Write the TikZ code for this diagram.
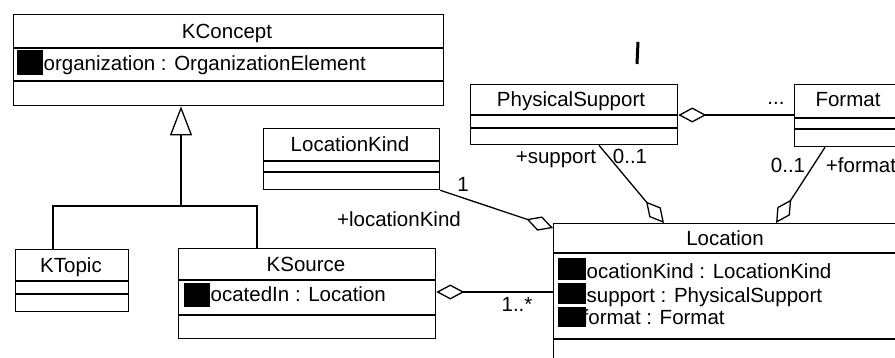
\documentclass[tikz,border=0pt]{standalone}
\usepackage{fontspec}
\setmainfont{Liberation Sans}
\usetikzlibrary{arrows.meta}
% horizontal compartment line inside a class box, #2 pt below its top edge
\newcommand\compart[2]{\draw ([yshift=-#2pt]#1.north west) -- ([yshift=-#2pt]#1.north east);}
\begin{document}
\begin{tikzpicture}[x=1pt,y=-1pt,
  line width=1.3pt,
  classbox/.style={draw, inner sep=0pt, anchor=north west},
  lbl/.style={inner sep=0pt, text height=14.7pt, text depth=0pt,
              font=\fontsize{20.5}{24}\selectfont},
  attrlbl/.style={lbl, anchor=west},
  agg/.style={{Diamond[open,length=28pt,width=15pt]}-},
  gen/.style={-{Triangle[open,length=29pt,width=22pt]}},
]
\useasboundingbox (0,0) rectangle (895,357);

% ---- class boxes ----
\node[classbox, minimum width=430pt, minimum height=91pt] (kconcept) at (13,14) {};
\compart{kconcept}{34} \compart{kconcept}{67}
\node[lbl] (kconceptT) at (227,31) {KConcept};
\node[attrlbl] (kconceptA) at (43,63) {organization : OrganizationElement};
\fill (17,50) rectangle (43,75);

\node[classbox, minimum width=113pt, minimum height=62pt] (ktopic) at (15,249) {};
\compart{ktopic}{32} \compart{ktopic}{45}
\node[lbl] (ktopicT) at (71,265) {KTopic};

\node[classbox, minimum width=257pt, minimum height=90pt] (ksource) at (178,248) {};
\compart{ksource}{32} \compart{ksource}{67}
\node[lbl] (ksourceT) at (306,264) {KSource};
\node[attrlbl] (ksourceA) at (205.5,294) {locatedIn : Location};
\fill (184,283) rectangle (210,307);

\node[classbox, minimum width=176pt, minimum height=61pt] (locationkind) at (263,128) {};
\compart{locationkind}{33} \compart{locationkind}{44}
\node[lbl] (locationkindT) at (350,144.5) {LocationKind};

\node[classbox, minimum width=207pt, minimum height=60pt] (physsup) at (470,84) {};
\compart{physsup}{31} \compart{physsup}{44}
\node[lbl] (physsupT) at (571,99.5) {PhysicalSupport};

\node[classbox, minimum width=104pt, minimum height=62pt] (format) at (794,84) {};
\compart{format}{34} \compart{format}{45}
\node[lbl] (formatT) at (848,99.5) {Format};

\node[classbox, minimum width=346pt, minimum height=150pt] (location) at (553,223) {};
\compart{location}{30} \compart{location}{116}
\node[lbl] (locationT) at (725,238.5) {Location};
\node[attrlbl] (locationA1) at (581.5,271.5) {locationKind : LocationKind};
\node[attrlbl] (locationA2) at (586,295) {support : PhysicalSupport};
\node[attrlbl] (locationA3) at (582,317) {format : Format};
\fill (558,258) rectangle (586,280);
\fill (558,283) rectangle (586,304);
\fill (558,307) rectangle (586,327);

% ---- generalization KTopic / KSource -> KConcept ----
\coordinate (gj) at (181,206);
\coordinate (tx) at (53,0);
\coordinate (sx) at (257,0);
\draw (ktopic.north -| tx) -- (tx |- gj) -- (sx |- gj) -- (ksource.north -| sx);
\draw[gen] (gj) -- (kconcept.south -| gj);

% ---- aggregations ----
\coordinate (ay) at (0,292);
\draw[agg] (ksource.east |- ay) -- (location.west |- ay);

\coordinate (lky) at (0,228);
\draw[agg] (location.west |- lky) -- (locationkind.south east);

\coordinate (psx) at (664,0);
\coordinate (psb) at (599,0);
\draw[agg] (location.north -| psx) -- (physsup.south -| psb);

\coordinate (fmx) at (776,0);
\coordinate (fmb) at (825,0);
\draw[agg] (location.north -| fmx) -- (format.south -| fmb);

\coordinate (pfy) at (0,115);
\draw[agg] (physsup.east |- pfy) -- (format.west |- pfy);

% ---- role names and multiplicities ----
\node[lbl] (m1) at (517,304) {1..*};
\node[lbl] (m2) at (463,184) {1};
\node[lbl] (r1) at (399,219) {+locationKind};
\node[lbl] (r2) at (556,156) {+support};
\node[lbl] (m3) at (630,156) {0..1};
\node[lbl] (m4) at (788,165) {0..1};
\node[lbl] (r3) at (861,165) {+format};
\node[inner sep=0pt, anchor=base, font=\fontsize{20.5}{24}\selectfont] (dots) at (776,104) {...};

% small stray stroke above the diagram
\draw[line width=3pt] (638,42) -- (637,64);
\end{tikzpicture}
\end{document}
